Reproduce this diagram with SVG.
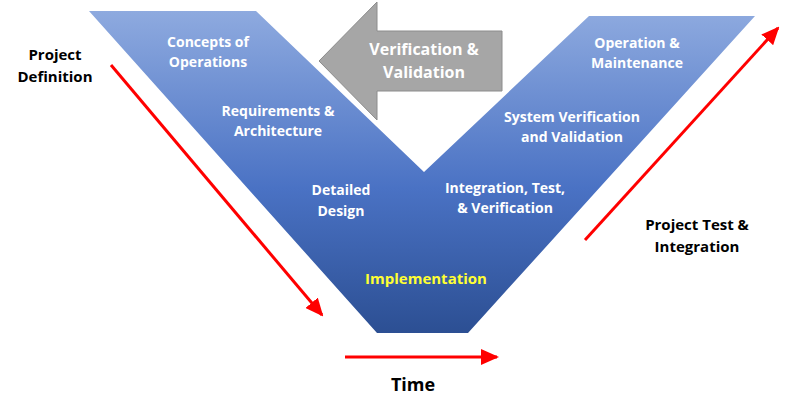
<svg xmlns="http://www.w3.org/2000/svg" width="800" height="414" viewBox="0 0 800 414">
<defs>
<linearGradient id="g" x1="0" y1="0" x2="0" y2="1"><stop offset="0" stop-color="#8eaadf"/><stop offset="0.55" stop-color="#4a72c4"/><stop offset="1" stop-color="#2c4f93"/></linearGradient>
<marker id="ah" markerWidth="8" markerHeight="8" refX="7" refY="4" orient="auto" markerUnits="userSpaceOnUse" viewBox="0 0 8 8"><path d="M0,0 L8,4 L0,8 z" fill="#ff0000"/></marker>
<marker id="ahb" markerWidth="18" markerHeight="16" refX="16" refY="8" orient="auto" markerUnits="userSpaceOnUse"><path d="M0,0 L18,8 L0,16 z" fill="#ff0000"/></marker>
</defs>
<style>
text{font-family:"Open Sans","Liberation Sans",sans-serif;font-weight:bold;text-anchor:middle}
.w{fill:#fff;font-size:14px}
.b{fill:#000;font-size:15px}
.r{stroke:#ff0000;stroke-width:3;fill:none}
</style>
<rect width="800" height="414" fill="#fff"/>
<g id="v"><path d="M89,11 L256,11 L424,172 L589,16 L755,16 L468,333 L377,333 Z" fill="url(#g)"/></g>
<g id="vv"><path d="M319,61 L377,2 L377,31 L502,31 L502,91 L377,91 L377,120 Z" fill="#a6a6a6" stroke="#8c8c8c" stroke-width="1"/>
<text class="w" x="424" y="55" font-size="16" style="font-size:16px">Verification &amp;</text><text class="w" x="424" y="78" style="font-size:16px">Validation</text></g>
<g id="n1"><text class="w" x="208" y="47">Concepts of</text><text class="w" x="208" y="67">Operations</text></g>
<g id="n2"><text class="w" x="278" y="116">Requirements &amp;</text><text class="w" x="278" y="136">Architecture</text></g>
<g id="n3"><text class="w" x="341" y="195">Detailed</text><text class="w" x="341" y="216">Design</text></g>
<g id="n4"><text x="426" y="284" style="fill:#ffff33;font-size:15px">Implementation</text></g>
<g id="n5"><text class="w" x="505" y="193">Integration, Test,</text><text class="w" x="505" y="213">&amp; Verification</text></g>
<g id="n6"><text class="w" x="572" y="122">System Verification</text><text class="w" x="572" y="142">and Validation</text></g>
<g id="n7"><text class="w" x="637" y="48">Operation &amp;</text><text class="w" x="637" y="68">Maintenance</text></g>
<g id="l1"><text class="b" x="55" y="60">Project</text><text class="b" x="55" y="82">Definition</text></g>
<g id="l2"><text class="b" x="697" y="230">Project Test &amp;</text><text class="b" x="697" y="252">Integration</text></g>
<g id="l3"><text class="b" x="413" y="391" style="font-size:18px">Time</text></g>
<g id="connectors">
<line class="r" x1="111" y1="65" x2="322" y2="315" marker-end="url(#ahb)"/>
<line class="r" x1="585" y1="240" x2="778" y2="28" marker-end="url(#ahb)"/>
<line class="r" x1="345" y1="357" x2="497" y2="357" marker-end="url(#ahb)"/>
</g>
</svg>
